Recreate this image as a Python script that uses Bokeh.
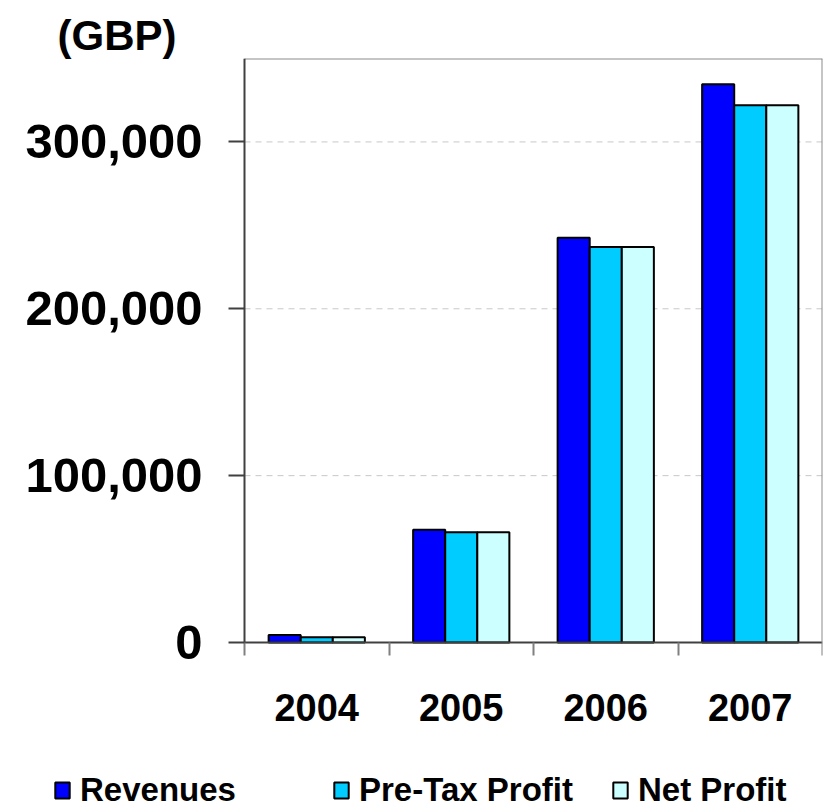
from bokeh.plotting import figure
from bokeh.models import (ColumnDataSource, FixedTicker, NumeralTickFormatter,
                          Range1d, Legend, LegendItem, LinearAxis)
from bokeh.embed import file_html
from bokeh.resources import INLINE

# Annual figures in GBP
years = ["2004", "2005", "2006", "2007"]
revenues = [4500, 67500, 242500, 334500]
pre_tax_profit = [3200, 66000, 237000, 322000]
net_profit = [3200, 66000, 237000, 322000]

series = [
    ("Revenues", revenues, "#0000FF"),
    ("Pre-Tax Profit", pre_tax_profit, "#00CCFF"),
    ("Net Profit", net_profit, "#CCFFFF"),
]
y_ticks = [0, 100000, 200000, 300000]
Y_MAX = 350000

FONT = "Liberation Sans"
BAR_W = 0.222

# page geometry (pixels): the frame covers the whole canvas below the caption,
# the value axis sits at AXIS_X and the baseline at BASE_Y
W, H = 829, 811
TOP, RIGHT_PAD = 58, 7
AXIS_X, BASE_Y = 244, 642
frame_w = W - RIGHT_PAD
px_per_cat = (frame_w - AXIS_X) / len(years)
px_per_val = (BASE_Y - TOP) / Y_MAX

x_range = Range1d(-AXIS_X / px_per_cat, len(years))
y_range = Range1d(-(H - BASE_Y) / px_per_val, Y_MAX)

centers = [i + 0.5 for i in range(len(years))]

p = figure(width=W, height=H, output_backend="svg", toolbar_location=None,
           x_range=x_range, y_range=y_range,
           x_axis_location=None, y_axis_location=None,
           min_border_left=0, min_border_right=RIGHT_PAD,
           min_border_top=TOP, min_border_bottom=0)
p.background_fill_color = "white"
p.border_fill_color = "white"
p.outline_line_color = None
p.grid.grid_line_color = None

# dashed value gridlines, behind the bars
for yv in y_ticks[1:]:
    p.segment(x0=0, x1=len(years), y0=yv, y1=yv, line_color="#c8c8c8",
              line_dash="6 5", line_width=1)

renderers = []
for k, (name, vals, color) in enumerate(series):
    offset = (k - 1) * BAR_W
    src = ColumnDataSource(dict(x=[c + offset for c in centers], top=vals))
    r = p.vbar(x="x", top="top", width=BAR_W, bottom=0, source=src,
               fill_color=color, line_color="black", line_width=2)
    renderers.append((name, r))

# value axis pinned at x = 0
yax = LinearAxis(fixed_location=0, bounds=(0, Y_MAX),
                 ticker=FixedTicker(ticks=y_ticks),
                 formatter=NumeralTickFormatter(format="0,0"))
yax.major_label_text_font = FONT
yax.major_label_text_font_style = "bold"
yax.major_label_text_font_size = "49px"
yax.major_label_text_color = "black"
yax.major_label_standoff = 26
yax.major_tick_out = 16
yax.major_tick_in = 0
yax.minor_tick_line_color = None
yax.axis_line_color = "#404040"
yax.axis_line_width = 2
yax.major_tick_line_color = "#404040"
yax.major_tick_line_width = 2
p.add_layout(yax, "left")

# category axis pinned at y = 0: labels at group centres, ticks at boundaries
xax = LinearAxis(fixed_location=0, bounds=(0, len(years)),
                 ticker=FixedTicker(ticks=centers,
                                    minor_ticks=list(range(len(years) + 1))))
xax.major_label_overrides = {c: y for c, y in zip(centers, years)}
xax.major_tick_line_color = None
xax.minor_tick_line_color = "#808080"
xax.minor_tick_line_width = 2
xax.minor_tick_out = 13
xax.minor_tick_in = 0
xax.axis_line_color = "#404040"
xax.axis_line_width = 2
xax.major_label_text_font = FONT
xax.major_label_text_font_style = "bold"
xax.major_label_text_font_size = "38px"
xax.major_label_text_color = "black"
xax.major_label_standoff = 38
p.add_layout(xax, "below")

# plot-area border along the top and right
for side, loc, bnds in (("above", Y_MAX, (0, len(years))),
                        ("right", len(years), (0, Y_MAX))):
    border = LinearAxis(fixed_location=loc, bounds=bnds,
                        ticker=FixedTicker(ticks=[]))
    border.major_label_text_font_size = "0px"
    border.major_tick_line_color = None
    border.minor_tick_line_color = None
    border.axis_line_color = "#8c8c8c"
    border.axis_line_width = 2
    p.add_layout(border, side)

# unit caption
p.title.text = "(GBP)"
p.title.text_font = FONT
p.title.text_font_style = "bold"
p.title.text_font_size = "42px"
p.title.text_color = "black"
p.title.align = "left"
p.title.offset = 57
p.title.standoff = 0

# key row under the category labels
legend = Legend(items=[LegendItem(label=name, renderers=[r]) for name, r in renderers],
                location=(53, 2), orientation="horizontal",
                glyph_width=18, glyph_height=20, label_standoff=9,
                label_width=252, spacing=0,
                padding=0, margin=0, border_line_color=None,
                background_fill_alpha=0, label_text_font=FONT,
                label_text_font_style="bold", label_text_font_size="33px",
                label_text_color="black")
p.add_layout(legend, "center")

open("out.html", "w").write(file_html(p, INLINE))
